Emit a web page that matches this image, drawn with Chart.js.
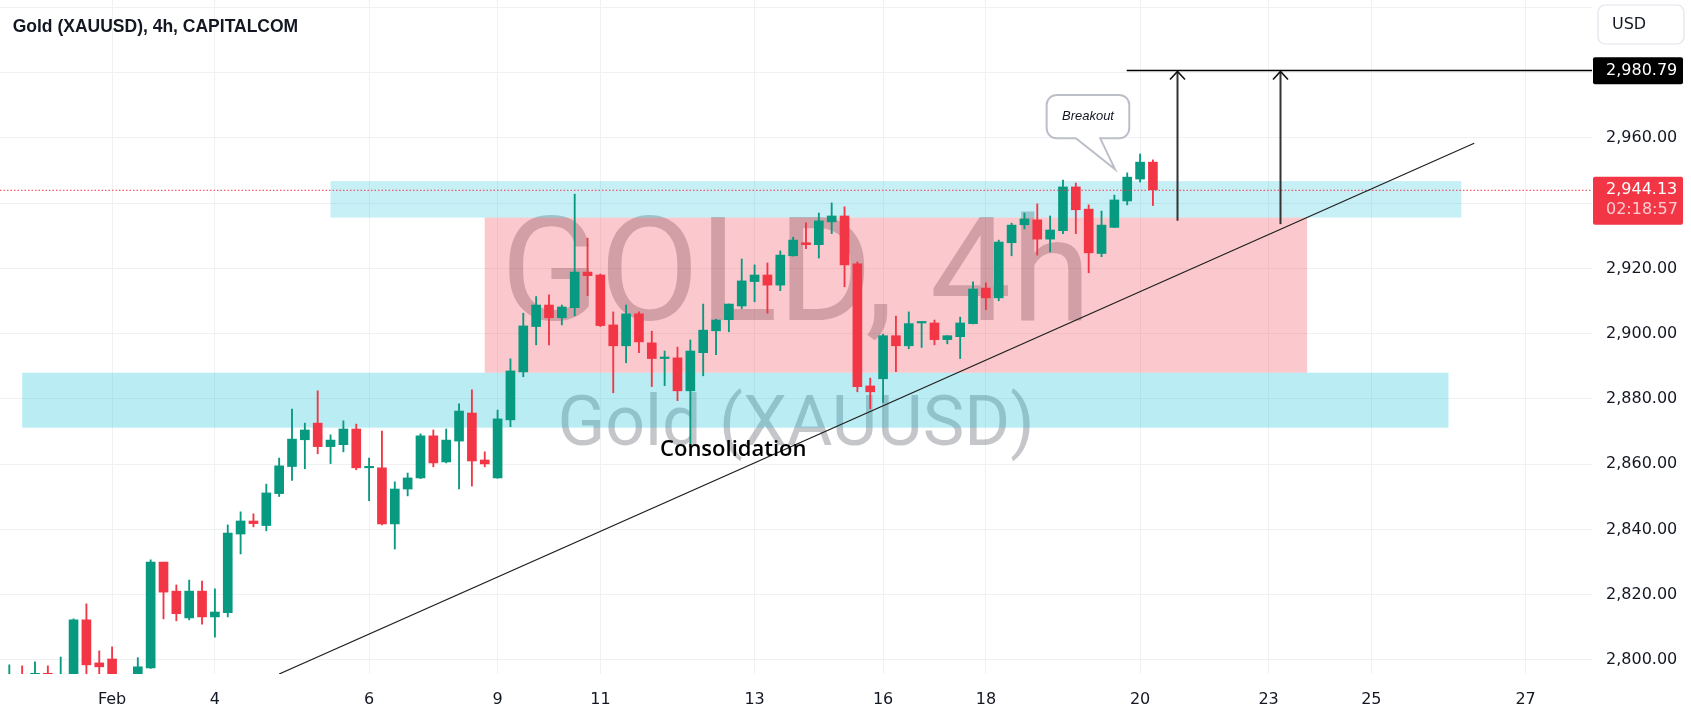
<!DOCTYPE html>
<html>
<head>
<meta charset="utf-8">
<title>Gold (XAUUSD), 4h, CAPITALCOM</title>
<script src="https://cdn.jsdelivr.net/npm/chart.js@4.4.1/dist/chart.umd.min.js"></script>
<style>
  html, body { margin: 0; padding: 0; background: #fff; }
  #wrap { position: relative; width: 1691px; height: 716px; }
</style>
</head>
<body>
<div id="wrap"><canvas id="goldChart"></canvas></div>
<script>
// 4h candles, index 0 = first bar visible on the left
const opens = [
  2790, 2794, 2793, 2795.9, 2791, 2794, 2812.3, 2799.1, 2800.3, 2793,
  2794, 2797.6, 2830.0, 2821.1, 2812.9, 2821.1, 2813.2, 2814.5, 2838.6, 2842.6,
  2841.2, 2851.0, 2859.3, 2867.5, 2872.6, 2865.4, 2866.0, 2870.8, 2858.9, 2858.9,
  2841.7, 2852.4, 2855.8, 2868.7, 2860.7, 2867.1, 2875.7, 2861.3, 2855.8, 2873.6,
  2888.3, 2902.2, 2908.8, 2904.9, 2908.0, 2918.9, 2918.0, 2902.7, 2896.3, 2906.1,
  2897.2, 2892.4, 2892.6, 2882.5, 2894.2, 2900.9, 2904.3, 2908.5, 2916.0, 2918.0,
  2914.9, 2923.9, 2927.9, 2927.3, 2934.3, 2936.1, 2921.4, 2884.0, 2886.2, 2899.4,
  2896.3, 2903.3, 2903.3, 2898.2, 2899.1, 2903.1, 2914.0, 2911.0, 2927.9, 2933.4,
  2934.9, 2929.0, 2931.6, 2945.0, 2938.2, 2924.6, 2932.6, 2940.7, 2947.4, 2952.6
];
const highs = [
  2798.5, 2798.2, 2799.4, 2798.2, 2800.9, 2812.6, 2817.2, 2802.8, 2804.0, 2795,
  2800.7, 2830.7, 2830.0, 2823.0, 2824.5, 2824.2, 2821.8, 2841.4, 2845.4, 2844.8,
  2853.9, 2861.9, 2876.9, 2872.6, 2882.5, 2869.0, 2873.3, 2872.3, 2861.9, 2870.2,
  2854.6, 2857.3, 2869.3, 2870.5, 2870.8, 2878.5, 2882.8, 2863.8, 2876.6, 2892.3,
  2906.3, 2911.4, 2911.9, 2908.8, 2942.8, 2929.3, 2918.3, 2906.7, 2908.8, 2906.7,
  2900.8, 2894.7, 2895.9, 2898.1, 2909.1, 2904.5, 2909.1, 2922.9, 2921.1, 2921.7,
  2925.4, 2929.6, 2934.0, 2937.0, 2940.1, 2938.9, 2922.0, 2886.4, 2899.9, 2905.4,
  2906.7, 2903.7, 2904.2, 2899.4, 2905.1, 2915.9, 2915.6, 2928.7, 2933.9, 2937.0,
  2939.8, 2936.1, 2947.1, 2946.2, 2939.5, 2937.6, 2942.5, 2949.3, 2955.1, 2953.3
];
const lows = [
  2788, 2787, 2790, 2790, 2789, 2792, 2795, 2795, 2792, 2789,
  2792, 2797.4, 2812.6, 2812.0, 2812.3, 2811.0, 2807.0, 2813.2, 2832.5, 2840.8,
  2839.6, 2850.1, 2855.0, 2858.6, 2863.2, 2860.2, 2863.8, 2858.3, 2848.8, 2841.4,
  2834.0, 2850.3, 2855.6, 2859.2, 2860.4, 2852.4, 2853.3, 2859.2, 2855.7, 2871.5,
  2886.8, 2896.6, 2896.6, 2902.7, 2905.5, 2911.7, 2902.2, 2881.9, 2891.1, 2894.2,
  2883.8, 2884.1, 2879.5, 2865.4, 2887.1, 2893.6, 2900.6, 2907.7, 2909.8, 2906.3,
  2913.2, 2923.8, 2926.1, 2923.2, 2930.7, 2914.4, 2882.2, 2877.0, 2878.9, 2888.4,
  2895.4, 2895.8, 2896.6, 2896.9, 2892.4, 2903.0, 2907.4, 2910.1, 2923.9, 2932.1,
  2924.1, 2925.1, 2930.7, 2930.7, 2918.7, 2923.6, 2932.5, 2939.5, 2946.5, 2939.3
];
const closes = [
  2794, 2790, 2795.9, 2793, 2795, 2812.3, 2798.5, 2797.9, 2794, 2791,
  2797.9, 2830.0, 2820.8, 2814.2, 2821.1, 2813.2, 2814.7, 2838.9, 2842.6, 2841.8,
  2851.2, 2859.5, 2867.7, 2870.5, 2865.4, 2867.4, 2870.8, 2858.9, 2859.1, 2841.7,
  2852.4, 2855.8, 2868.7, 2860.4, 2867.4, 2876.3, 2861.0, 2860.1, 2873.9, 2888.6,
  2902.4, 2908.8, 2904.9, 2908.2, 2918.9, 2917.8, 2902.5, 2896.3, 2906.1, 2897.5,
  2892.4, 2892.5, 2882.5, 2894.7, 2901.1, 2904.2, 2909.1, 2916.2, 2918.0, 2914.9,
  2924.1, 2928.7, 2927.3, 2934.6, 2936.1, 2921.1, 2883.8, 2882.2, 2899.4, 2896.3,
  2903.1, 2903.4, 2898.2, 2899.4, 2903.3, 2913.7, 2911.0, 2928.1, 2933.3, 2935.2,
  2929.0, 2931.8, 2945.0, 2938.0, 2924.8, 2933.3, 2941.0, 2948.0, 2952.6, 2944.13
];

// time axis: bar index of each date label
const dateTickIdx = [8, 16, 28, 38, 46, 58, 68, 76, 88, 98, 106, 118];
const dateTickLabels = ['Feb', '4', '6', '9', '11', '13', '16', '18', '20', '23', '25', '27'];

// price axis
const priceTicks = [2800, 2820, 2840, 2860, 2880, 2900, 2920, 2940, 2960, 2980, 3000];
const hiddenPriceTicks = [2940, 2980, 3000];
const xMin = -0.724, xMax = 123.17;
const yMin = 2795.7, yMax = 3002.3;

// drawings: [barIndex, price]
const lastPrice = 2944.13;
const countdown = '02:18:57';
const targetPrice = 2980.79;
const targetLineFrom = 86.96;
const lowerZone = [1, 112, 2888.06, 2871.2];
const upperZone = [25, 113, 2946.8, 2935.6];
const rangeZone = [37, 101, 2935.6, 2888.06];
const trendStart = [21.0, 2795.7];
const trendEnd = [114.0, 2958.4];
const arrowFeet = [[90.9, 2934.65], [98.9, 2933.6]];
const calloutBox = [80.73, 2973.2, 87.16, 2959.9];
const calloutTail = [83.0, 84.9];
const calloutTip = [86.05, 2950.4];
const consolidationAt = [50.64, 2862.5];

const titleText = 'Gold (XAUUSD), 4h, CAPITALCOM';
const watermarkMain = 'GOLD, 4h';
const watermarkSub = 'Gold (XAUUSD)';

const upColor = '#089981';
const downColor = '#f23645';
const gridColor = '#f0f1f3';
const textColor = '#131722';
const barColors = closes.map((c, i) => c >= opens[i] ? upColor : downColor);

function fmtPrice(v) {
    return v.toLocaleString('en-US', { minimumFractionDigits: 2, maximumFractionDigits: 2 });
}

function roundRect(ctx, x, y, w, h, r) {
    ctx.beginPath();
    ctx.moveTo(x + r, y);
    ctx.arcTo(x + w, y, x + w, y + h, r);
    ctx.arcTo(x + w, y + h, x, y + h, r);
    ctx.arcTo(x, y + h, x, y, r);
    ctx.arcTo(x, y, x + w, y, r);
    ctx.closePath();
}

// watermark, zones, drawings and axis labels
const overlay = {
    id: 'overlay',
    beforeDatasetsDraw(chart) {
        const { ctx, chartArea: a, scales: { x, y } } = chart;
        ctx.save();
        ctx.beginPath();
        ctx.rect(a.left, a.top, a.width, a.height);
        ctx.clip();

        const cx = (a.left + a.right) / 2;
        ctx.fillStyle = 'rgba(42, 46, 57, 0.27)';
        ctx.textAlign = 'center';
        ctx.textBaseline = 'alphabetic';
        ctx.font = '400 145px Roboto';
        ctx.fillText(watermarkMain, cx, 320);
        ctx.font = '400 70px Roboto';
        ctx.fillText(watermarkSub, cx, 445);

        const zone = (z, color) => {
            const x0 = x.getPixelForValue(z[0]), x1 = x.getPixelForValue(z[1]);
            const y0 = y.getPixelForValue(z[2]), y1 = y.getPixelForValue(z[3]);
            ctx.fillStyle = color;
            ctx.fillRect(x0, y0, x1 - x0, y1 - y0);
        };
        zone(lowerZone, 'rgba(0, 188, 212, 0.27)');
        zone(upperZone, 'rgba(0, 188, 212, 0.22)');
        zone(rangeZone, 'rgba(242, 54, 69, 0.27)');
        ctx.restore();
    },
    afterDatasetsDraw(chart) {
        const { ctx, chartArea: a, scales: { x, y } } = chart;
        ctx.save();
        ctx.beginPath();
        ctx.rect(a.left, a.top, a.width, a.height);
        ctx.clip();

        // last price line
        const py = y.getPixelForValue(lastPrice);
        ctx.strokeStyle = downColor;
        ctx.lineWidth = 1;
        ctx.setLineDash([1.5, 2]);
        ctx.beginPath();
        ctx.moveTo(a.left, py + 0.5);
        ctx.lineTo(a.right, py + 0.5);
        ctx.stroke();
        ctx.setLineDash([]);

        // trend line
        ctx.strokeStyle = '#1f1f1f';
        ctx.lineWidth = 1.2;
        ctx.beginPath();
        ctx.moveTo(x.getPixelForValue(trendStart[0]), y.getPixelForValue(trendStart[1]));
        ctx.lineTo(x.getPixelForValue(trendEnd[0]), y.getPixelForValue(trendEnd[1]));
        ctx.stroke();

        // target line
        const ty = Math.round(y.getPixelForValue(targetPrice)) + 0.5;
        ctx.strokeStyle = '#000';
        ctx.lineWidth = 1.3;
        ctx.beginPath();
        ctx.moveTo(x.getPixelForValue(targetLineFrom), ty);
        ctx.lineTo(a.right, ty);
        ctx.stroke();

        // arrows up to the target
        arrowFeet.forEach(([bi, p]) => {
            const ax = Math.round(x.getPixelForValue(bi)) + 0.5;
            ctx.strokeStyle = '#333';
            ctx.lineWidth = 2;
            ctx.beginPath();
            ctx.moveTo(ax, y.getPixelForValue(p));
            ctx.lineTo(ax, ty + 1);
            ctx.stroke();
            ctx.strokeStyle = '#111';
            ctx.lineWidth = 1.6;
            ctx.beginPath();
            ctx.moveTo(ax - 7.5, ty + 9);
            ctx.lineTo(ax, ty + 1);
            ctx.lineTo(ax + 7.5, ty + 9);
            ctx.stroke();
        });

        // "Breakout" callout
        const bx0 = x.getPixelForValue(calloutBox[0]), bx1 = x.getPixelForValue(calloutBox[2]);
        const by0 = y.getPixelForValue(calloutBox[1]), by1 = y.getPixelForValue(calloutBox[3]);
        const t0 = x.getPixelForValue(calloutTail[0]), t1 = x.getPixelForValue(calloutTail[1]);
        const tipX = x.getPixelForValue(calloutTip[0]), tipY = y.getPixelForValue(calloutTip[1]);
        const r = 10;
        ctx.beginPath();
        ctx.moveTo(bx0 + r, by0);
        ctx.arcTo(bx1, by0, bx1, by1, r);
        ctx.arcTo(bx1, by1, bx0, by1, r);
        ctx.lineTo(t1, by1);
        ctx.lineTo(tipX, tipY);
        ctx.lineTo(t0, by1);
        ctx.arcTo(bx0, by1, bx0, by0, r);
        ctx.arcTo(bx0, by0, bx1, by0, r);
        ctx.closePath();
        ctx.fillStyle = '#fff';
        ctx.fill();
        ctx.strokeStyle = '#bcbfc7';
        ctx.lineWidth = 2;
        ctx.stroke();
        ctx.fillStyle = textColor;
        ctx.font = 'italic 13px "Liberation Sans"';
        ctx.textAlign = 'center';
        ctx.textBaseline = 'middle';
        ctx.fillText('Breakout', (bx0 + bx1) / 2, (by0 + by1) / 2);

        // "Consolidation" label
        ctx.font = '600 22px "Open Sans"';
        ctx.textAlign = 'left';
        ctx.textBaseline = 'alphabetic';
        ctx.fillStyle = '#000';
        ctx.fillText('Consolidation', x.getPixelForValue(consolidationAt[0]), y.getPixelForValue(consolidationAt[1]));
        ctx.restore();
    },
    afterDraw(chart) {
        const { ctx, chartArea: a, scales: { y } } = chart;
        ctx.save();

        // title
        ctx.fillStyle = textColor;
        ctx.font = 'bold 17.5px "Liberation Sans"';
        ctx.textAlign = 'left';
        ctx.textBaseline = 'alphabetic';
        ctx.fillText(titleText, 12.7, 31.7);

        // currency button
        roundRect(ctx, a.right + 6, 5, 86, 39, 7);
        ctx.fillStyle = '#fff';
        ctx.fill();
        ctx.strokeStyle = '#e0e3eb';
        ctx.lineWidth = 1.2;
        ctx.stroke();
        ctx.fillStyle = textColor;
        ctx.font = '16px "DejaVu Sans"';
        ctx.textBaseline = 'middle';
        ctx.fillText('USD', a.right + 20, 24.5);

        // target price label
        const ty = y.getPixelForValue(targetPrice);
        roundRect(ctx, a.right + 1, ty - 13, 90, 27, 2);
        ctx.fillStyle = '#000';
        ctx.fill();
        ctx.fillStyle = '#fff';
        ctx.fillText(fmtPrice(targetPrice), a.right + 14, ty + 0.5);

        // last price label with countdown
        const py = y.getPixelForValue(lastPrice);
        roundRect(ctx, a.right + 1, py - 13, 90, 48, 2);
        ctx.fillStyle = downColor;
        ctx.fill();
        ctx.fillStyle = '#fff';
        ctx.fillText(fmtPrice(lastPrice), a.right + 14, py + 0.5);
        ctx.fillStyle = 'rgba(255, 255, 255, 0.75)';
        ctx.fillText(countdown, a.right + 14, py + 20.5);
        ctx.restore();
    }
};

new Chart(document.getElementById('goldChart'), {
    type: 'bar',
    data: {
        datasets: [
            {
                label: 'body',
                data: closes.map((c, i) => ({ x: i, y: [opens[i], c] })),
                backgroundColor: barColors,
                barThickness: 9,
                minBarLength: 1.5,
                grouped: false,
                order: 1
            },
            {
                label: 'wick',
                data: highs.map((h, i) => ({ x: i, y: [lows[i], h] })),
                backgroundColor: barColors,
                barThickness: 1.2,
                grouped: false,
                order: 2
            }
        ]
    },
    options: {
        responsive: true,
        maintainAspectRatio: false,
        animation: false,
        layout: { padding: 0 },
        plugins: {
            legend: { display: false },
            tooltip: { enabled: false }
        },
        scales: {
            x: {
                type: 'linear',
                min: xMin,
                max: xMax,
                offset: false,
                grid: { color: gridColor, offset: false, drawTicks: false },
                border: { display: false },
                ticks: {
                    autoSkip: false,
                    maxRotation: 0,
                    padding: 16,
                    color: textColor,
                    font: { family: 'DejaVu Sans', size: 16 },
                    callback: v => dateTickLabels[dateTickIdx.indexOf(v)] ?? ''
                },
                afterBuildTicks: s => { s.ticks = dateTickIdx.map(v => ({ value: v })); },
                afterFit: s => { s.height = 42; s.paddingLeft = 0; s.paddingRight = 0; }
            },
            y: {
                type: 'linear',
                position: 'right',
                min: yMin,
                max: yMax,
                grid: { color: gridColor, drawTicks: false },
                border: { display: false },
                ticks: {
                    padding: 14,
                    color: textColor,
                    font: { family: 'DejaVu Sans', size: 16 },
                    callback: v => hiddenPriceTicks.includes(v) ? '' : fmtPrice(v)
                },
                afterBuildTicks: s => { s.ticks = priceTicks.map(v => ({ value: v })); },
                afterFit: s => { s.width = 99; s.paddingTop = 0; s.paddingBottom = 0; }
            }
        }
    },
    plugins: [overlay]
});
</script>
</body>
</html>
